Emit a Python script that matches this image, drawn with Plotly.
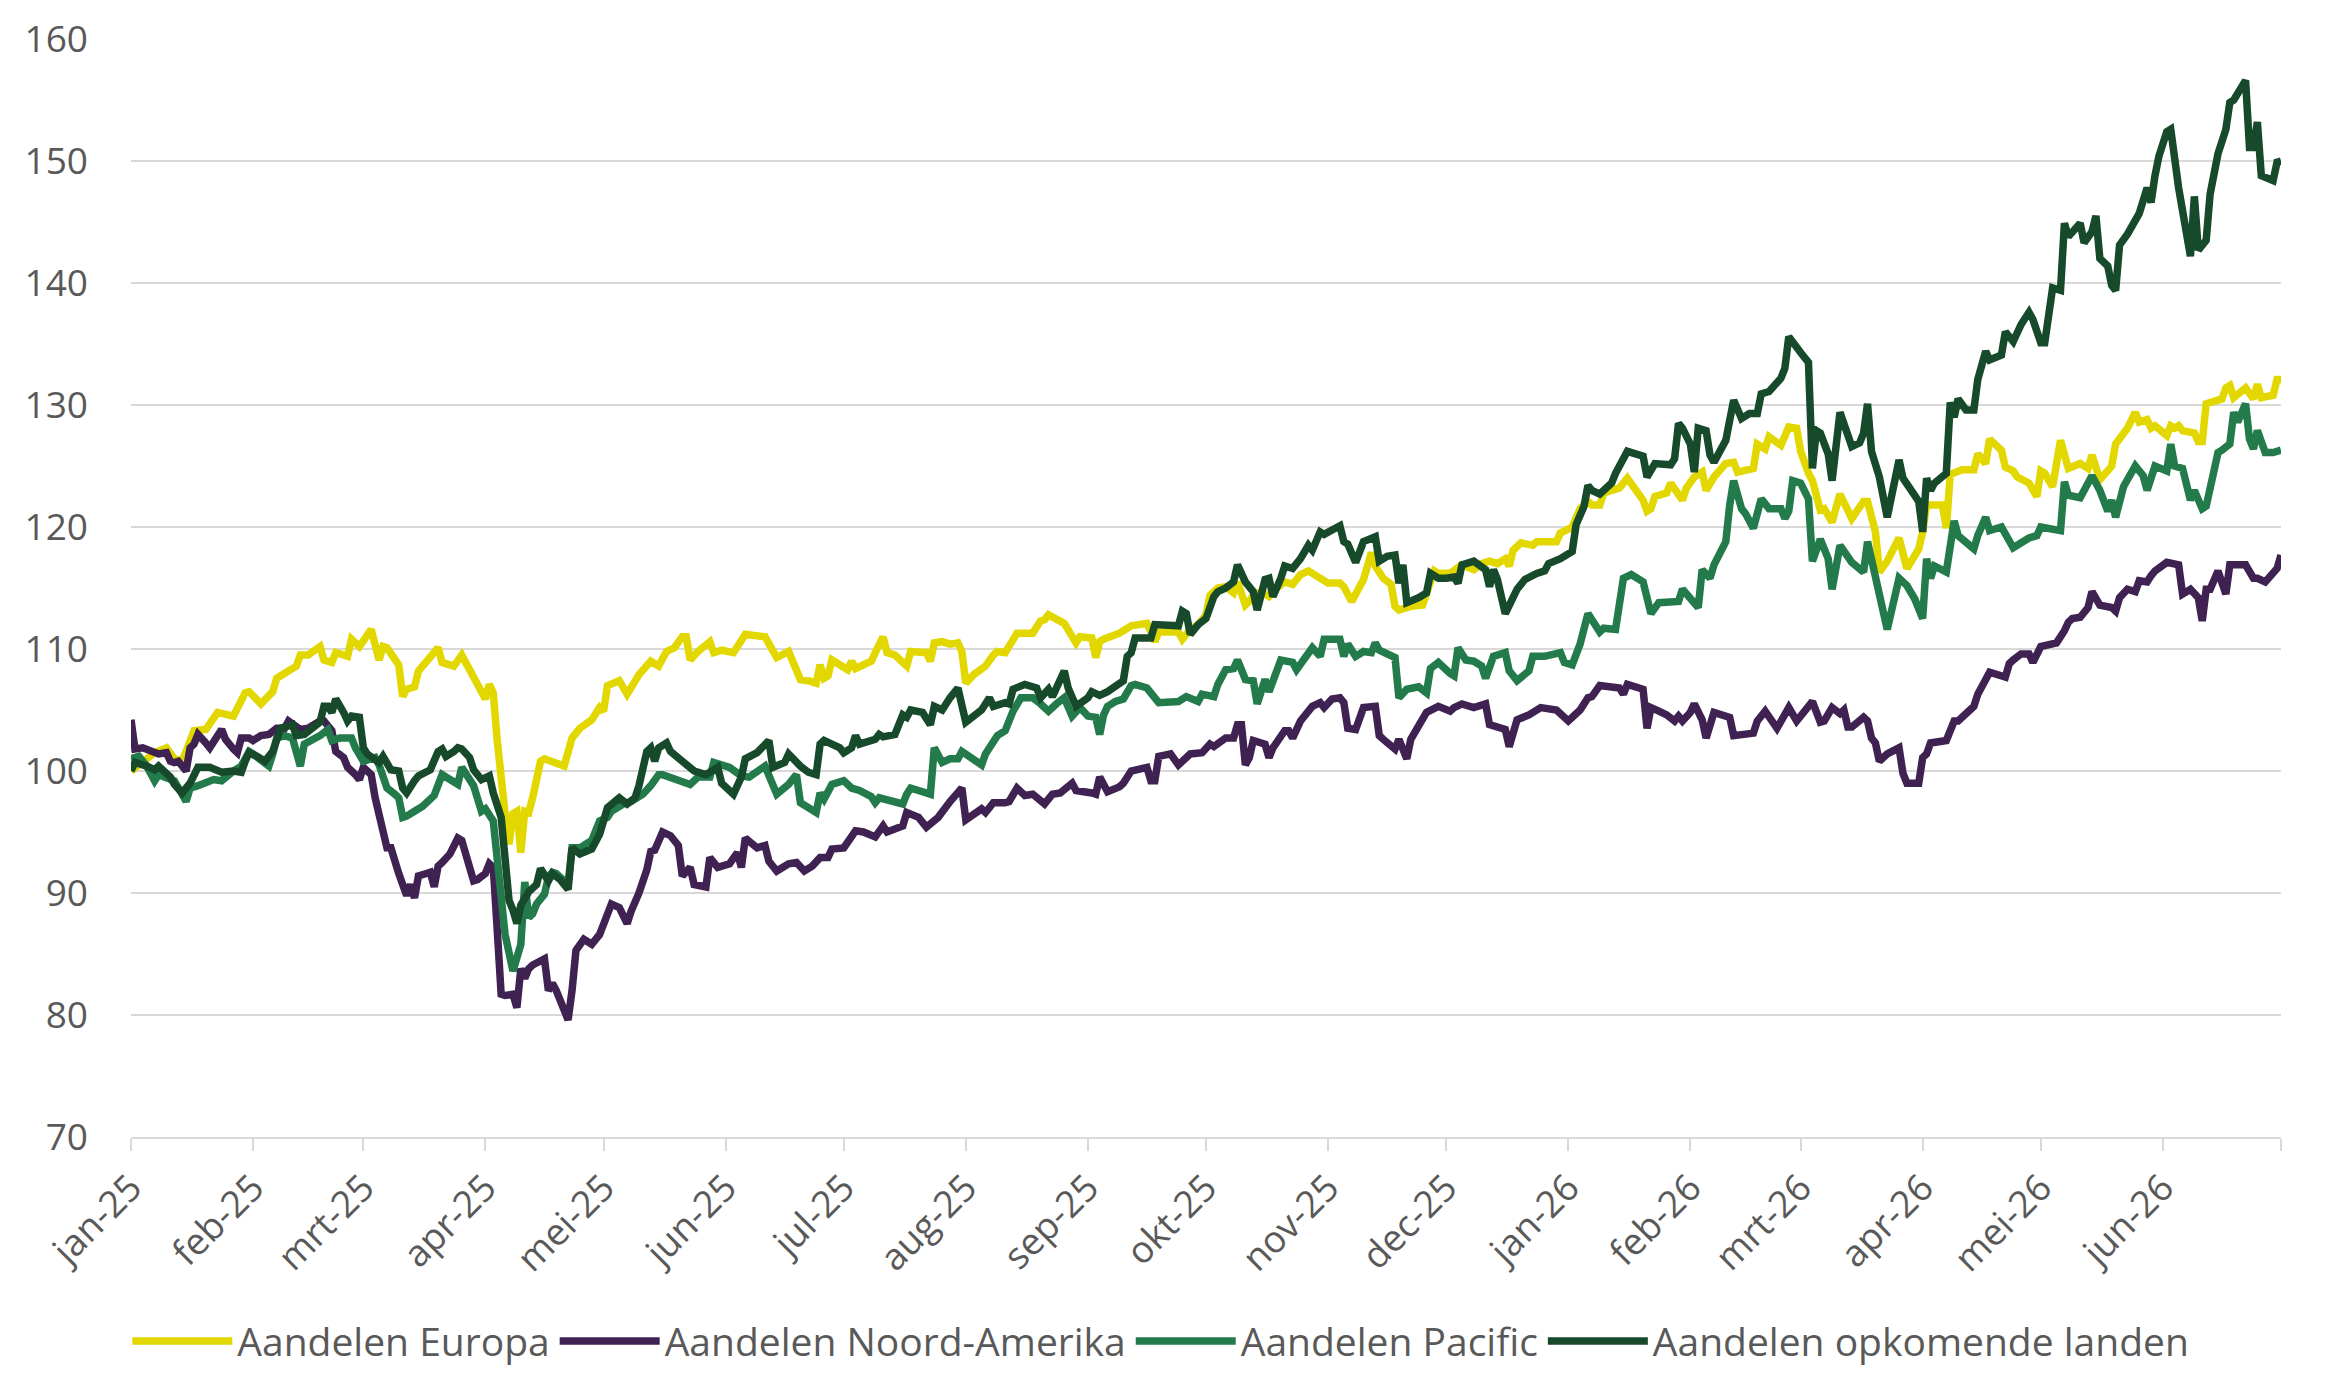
import pandas as pd
import plotly.graph_objects as go

BASE_DATE = "2025-01-01"  # day offsets below count from this date

europa_days = [0,3,6,9,11,13,15,16,19,22,26,29,30,33,36,37,42,43,45,48,49,51,52,55,56,58,61,63,64,65,68,69,70,72,73,75,78,79,82,84,86,88,90,91,92,93,94,95,96,97,98,99,100,101,102,103,104,105,110,112,114,117,119,120,121,124,126,129,132,134,136,138,140,141,142,144,147,148,150,153,155,156,161,162,164,167,169,170,172,174,175,176,177,178,182,183,184,188,189,191,192,194,197,198,202,203,204,206,208,210,211,212,214,216,217,219,220,222,225,229,231,232,233,237,239,240,241,244,245,246,247,249,251,254,258,259,260,261,266,267,269,271,273,274,276,278,280,281,283,284,285,287,289,291,293,295,297,299,302,304,307,308,310,312,313,315,316,318,320,321,322,325,328,330,331,332,335,338,341,343,345,347,349,350,351,353,356,357,362,363,366,368,370,371,373,374,378,380,382,384,385,386,387,390,391,393,394,395,397,399,400,402,405,407,408,412,413,415,416,419,421,423,424,426,427,429,430,432,434,437,440,441,443,444,446,449,451,454,455,456,460,461,462,465,468,469,471,472,475,476,478,479,482,484,485,486,488,490,492,495,497,498,500,502,503,504,505,507,509,510,512,513,514,517,518,519,520,521,524,525,526,527,531,532,533,534,537,539,540,541,544,545,546]
europa_values = [100.0,100.8,101.5,101.9,101.0,100.8,102.5,103.3,103.4,104.8,104.5,106.4,106.5,105.5,106.5,107.6,108.6,109.5,109.5,110.2,109.1,108.9,109.7,109.4,110.8,110.2,111.6,109.1,110.2,110.1,108.7,106.1,106.7,106.9,108.2,108.9,110.1,108.9,108.6,109.5,108.3,107.2,105.9,107.1,106.4,102.5,98.6,96.5,94.0,96.5,96.7,93.3,96.7,96.6,97.8,99.2,100.8,101.0,100.4,102.7,103.5,104.2,105.2,104.9,107.0,107.4,106.3,107.9,109.0,108.6,109.8,110.1,111.0,111.0,109.1,109.8,110.6,109.7,109.9,109.7,110.6,111.2,111.0,110.4,109.3,109.8,108.2,107.5,107.4,107.2,108.7,107.6,107.8,109.1,108.3,109.0,108.4,109.0,109.7,111.0,109.7,109.5,108.6,109.8,109.7,109.0,110.5,110.6,110.4,110.5,109.8,107.2,107.9,108.4,108.6,109.5,109.8,109.7,111.3,111.3,112.3,112.4,112.8,112.1,111.2,110.5,111.0,110.9,109.3,110.6,110.8,111.0,111.3,111.9,112.1,111.4,110.6,111.4,111.4,110.8,111.6,112.0,112.8,114.4,115.0,115.1,114.6,115.5,113.6,113.9,114.4,114.7,114.3,115.0,115.5,115.3,116.1,116.4,115.9,115.4,115.4,115.1,113.9,115.3,115.7,117.9,116.8,115.8,115.3,113.5,113.2,113.5,113.6,115.5,116.4,116.2,116.2,116.9,116.5,117.0,117.2,117.0,117.4,116.8,118.1,118.7,118.5,118.8,118.8,119.5,120.0,121.5,122.1,121.8,121.8,122.8,123.2,124.0,123.2,122.2,121.3,121.5,122.5,122.8,123.6,122.5,122.2,123.2,124.1,124.5,123.0,124.1,125.2,125.3,124.5,124.8,126.8,126.4,127.4,126.7,128.2,128.1,126.2,124.4,123.8,121.4,121.5,120.4,122.7,120.7,122.1,122.1,119.6,116.3,117.2,119.1,116.6,118.2,119.6,121.8,121.8,119.9,124.3,124.7,124.7,126.0,125.2,127.2,126.3,124.9,124.6,124.1,123.6,122.5,124.6,124.4,123.3,127.1,124.8,125.2,124.8,125.9,123.9,124.6,125.0,126.8,127.2,128.1,129.4,128.6,128.8,128.1,128.3,127.5,128.3,128.1,128.3,127.9,127.7,127.0,127.0,130.1,130.5,131.4,131.6,130.6,131.4,130.5,131.7,130.6,130.8,132.1,132.1]

noord_amerika_days = [0,1,3,5,7,9,10,11,12,14,15,16,17,19,20,23,24,26,27,28,30,31,33,35,37,39,40,43,45,48,49,51,52,54,55,57,58,59,61,62,64,65,66,67,68,70,71,72,73,75,76,77,78,79,81,83,84,85,87,88,90,91,92,93,94,95,97,98,99,100,101,102,105,106,107,108,111,112,113,115,117,119,121,122,124,126,127,128,129,131,132,133,135,137,139,140,142,143,146,147,149,152,154,155,156,159,161,162,164,167,169,171,173,175,177,178,181,184,186,189,191,192,194,196,197,200,202,204,205,208,210,211,212,214,216,217,219,222,223,225,227,229,232,234,236,239,240,244,245,246,248,251,252,254,258,259,260,261,264,266,268,269,272,274,275,278,280,281,282,283,284,285,288,289,290,293,294,295,297,300,302,303,305,307,308,309,311,313,316,317,318,321,322,324,325,329,332,335,336,338,341,344,345,348,349,350,352,355,358,362,364,365,368,370,371,373,378,379,380,384,385,386,388,390,392,393,394,396,397,399,400,402,406,407,412,413,415,418,421,423,426,427,429,430,432,434,435,436,437,440,441,442,443,444,446,449,450,451,454,455,456,457,461,463,464,468,469,471,472,476,477,478,480,482,483,485,489,491,492,493,495,497,498,500,503,504,505,507,509,510,512,513,514,517,519,520,521,523,525,526,527,528,530,532,533,537,539,540,542,545,546]
noord_amerika_values = [104.2,101.8,101.9,101.6,101.4,101.5,100.8,100.7,100.8,100.0,101.9,102.2,103.0,102.3,101.9,103.4,102.6,101.8,101.5,102.7,102.7,102.5,102.9,103.0,103.5,103.5,104.1,103.4,103.5,104.1,104.1,103.3,101.6,101.1,100.3,99.7,99.3,100.3,99.7,97.8,95.4,93.7,93.7,92.4,91.6,89.8,90.7,89.6,91.4,91.6,91.7,90.5,92.2,92.5,93.2,94.5,94.3,93.2,91.0,91.1,91.6,92.4,92.1,87.0,81.7,81.6,81.7,80.6,83.8,83.0,83.8,84.1,84.6,82.0,82.6,82.0,79.6,82.0,85.3,86.2,85.8,86.6,88.3,89.1,88.8,87.5,88.5,89.1,90.0,91.9,93.4,93.5,95.0,94.7,93.9,91.4,92.1,90.7,90.5,92.9,92.1,92.4,93.3,92.1,94.5,93.7,93.9,92.6,91.8,92.4,92.5,91.8,92.2,92.9,92.9,93.6,93.7,95.1,95.0,94.6,95.5,95.0,95.2,95.5,96.6,96.2,95.4,95.9,96.2,97.5,98.4,98.6,96.0,96.5,96.9,96.6,97.4,97.4,97.5,98.6,98.0,98.1,97.3,98.1,98.2,99.0,98.4,98.2,98.1,99.5,98.3,98.7,99.0,100.0,100.3,99.2,99.2,101.2,101.4,100.5,101.0,101.4,101.5,102.2,102.0,102.7,102.7,103.8,103.8,100.5,101.1,102.5,102.2,101.1,101.9,103.3,103.3,102.7,104.1,105.3,105.6,105.2,105.9,106.0,105.6,103.5,103.4,105.2,105.3,102.9,102.6,101.8,102.6,101.0,102.6,104.8,105.3,104.9,105.2,105.5,105.2,105.5,103.8,103.5,103.4,102.0,104.2,104.6,105.2,105.0,104.4,104.1,105.0,106.0,106.1,107.0,106.8,106.3,107.1,106.7,103.5,105.2,104.9,104.6,104.1,104.5,104.1,104.8,105.5,104.2,102.7,104.8,104.4,102.9,103.1,104.1,104.9,103.5,105.2,104.1,105.3,105.7,104.0,104.1,105.2,104.7,105.0,103.6,103.6,104.4,104.1,102.7,102.3,100.8,101.4,101.9,99.8,99.0,99.0,101.1,101.4,102.3,102.5,104.1,104.1,105.3,106.3,107.4,108.1,107.7,108.8,109.1,109.6,109.6,108.9,110.2,110.5,111.5,112.2,112.5,112.6,113.4,114.7,113.6,113.4,113.1,114.2,114.9,114.7,115.6,115.5,116.0,116.4,117.1,116.9,116.9,114.5,114.9,114.2,112.3,114.9,114.9,116.4,114.5,116.9,116.9,115.8,115.8,115.5,116.6,117.7]

pacific_days = [0,2,4,6,7,9,11,14,15,17,19,21,23,24,26,28,30,31,34,35,36,37,39,41,43,44,48,50,51,53,56,57,59,62,63,64,65,67,68,69,70,72,74,77,79,81,83,84,87,89,90,92,93,94,95,97,98,99,100,101,102,103,105,106,107,108,111,112,114,117,119,121,122,125,127,128,130,132,134,135,139,140,142,144,147,148,152,155,157,161,164,167,169,170,174,175,176,178,181,183,185,188,189,190,193,196,197,198,200,203,204,206,208,210,211,213,216,217,220,222,224,226,229,231,233,235,237,239,241,243,245,246,247,248,250,252,254,255,258,261,266,268,271,272,275,276,278,280,281,283,285,286,288,289,292,295,296,300,302,303,307,308,309,311,313,315,316,317,321,322,324,327,329,330,332,335,336,337,339,341,343,344,346,349,350,352,355,356,359,363,364,366,368,370,371,373,374,377,379,381,384,386,388,391,393,394,398,399,401,402,405,406,407,409,410,412,414,416,419,420,421,422,424,426,427,429,431,432,434,437,440,441,443,444,446,449,451,453,455,456,457,458,461,463,464,468,469,471,472,475,478,482,484,485,490,491,492,495,498,500,502,503,504,506,507,509,511,512,514,517,518,519,521,523,524,526,527,528,530,531,533,534,535,537,538,539,540,542,544,546]
pacific_values = [101.0,101.2,100.4,99.2,99.7,99.5,99.2,97.5,98.6,98.8,99.0,99.3,99.2,99.5,100.0,100.4,101.6,101.4,100.5,100.4,101.4,102.7,102.9,102.7,100.4,102.2,102.9,103.4,102.5,102.7,102.7,101.9,100.8,101.1,100.5,99.5,98.6,98.1,97.8,96.2,96.3,96.7,97.1,98.0,99.7,99.3,98.9,100.3,98.8,96.7,96.9,95.9,92.9,89.6,86.6,83.6,84.5,85.8,90.9,88.0,88.3,89.1,89.9,91.3,91.7,91.6,90.7,93.7,93.7,94.3,95.9,96.2,96.7,97.3,97.5,97.7,98.1,98.8,99.7,99.7,99.3,99.2,98.9,99.5,99.5,100.7,100.3,99.6,99.5,100.4,98.1,98.9,99.7,97.4,96.6,98.2,97.7,98.9,99.2,98.6,98.4,97.9,97.4,97.8,97.5,97.3,98.1,98.6,98.4,98.1,101.9,100.7,101.0,101.0,101.6,101.1,100.5,101.4,102.9,103.3,104.9,106.0,106.0,105.5,104.9,105.5,106.0,104.5,105.2,104.5,104.4,103.0,104.6,105.3,105.7,105.9,107.0,107.1,106.8,105.6,105.7,106.1,105.7,106.3,106.1,107.1,108.3,108.4,109.1,107.5,107.4,105.5,107.5,106.5,109.1,108.9,108.3,110.1,109.4,110.8,110.8,109.4,110.4,109.4,109.8,109.7,110.5,109.9,109.3,106.0,106.7,106.9,106.4,108.4,108.9,108.0,107.8,110.1,109.1,109.0,108.6,107.6,109.4,109.7,108.2,107.4,108.2,109.4,109.4,109.7,108.9,108.7,110.4,112.9,112.3,111.4,111.7,111.6,115.8,116.1,115.5,112.9,113.8,113.8,113.9,114.9,113.4,116.5,115.8,116.9,118.8,121.8,123.8,121.5,121.1,119.9,122.3,121.5,121.5,120.7,121.3,123.8,123.6,122.3,117.2,119.0,117.4,114.9,118.5,117.1,116.3,118.8,116.1,114.3,111.6,115.8,115.2,114.1,112.5,117.4,115.8,116.8,116.3,120.5,119.3,118.2,119.3,120.8,119.7,120.0,118.3,119.1,119.3,120.0,119.7,123.7,122.6,122.4,124.2,123.0,121.3,122.2,120.8,123.3,123.9,125.0,124.2,123.0,125.0,124.6,126.8,125.0,124.8,122.2,123.0,121.5,121.7,123.3,126.1,126.3,126.8,129.4,128.6,130.1,127.2,126.4,127.9,126.1,126.1,126.3]

opkomend_days = [0,1,4,6,7,10,11,13,15,17,20,22,23,26,28,29,30,32,34,36,37,38,41,42,44,48,49,50,51,52,54,55,56,58,59,60,63,64,66,68,69,70,72,73,76,78,79,80,82,83,84,86,87,89,91,92,94,95,96,97,98,99,101,103,104,106,107,109,111,112,114,117,119,121,124,126,128,129,131,132,133,134,136,137,139,141,143,146,148,149,150,153,155,156,159,161,162,163,166,167,169,170,172,174,175,176,178,180,181,183,184,185,186,188,189,190,191,194,196,197,198,201,203,204,206,208,210,212,214,216,218,219,222,223,224,227,230,231,233,234,237,238,240,243,244,246,248,250,252,253,254,255,259,260,266,267,268,269,271,273,275,276,278,280,281,283,285,286,288,289,290,292,293,295,297,299,300,302,303,307,308,309,311,313,316,317,319,321,322,323,324,327,329,330,332,334,336,337,338,341,344,345,346,347,349,352,354,357,359,360,363,366,367,369,370,371,373,376,377,380,384,385,387,391,392,393,394,396,397,398,400,401,402,405,406,407,409,411,413,414,416,419,420,421,424,426,427,428,429,431,432,434,437,439,440,441,442,444,446,449,450,452,454,455,456,457,458,461,462,463,464,466,468,469,471,472,475,476,478,480,482,483,485,486,488,490,491,492,494,495,496,498,499,500,502,503,504,505,507,510,512,513,514,515,517,518,520,523,524,525,527,528,530,532,533,534,537,538,539,540,541,544,545,546]
opkomend_values = [100.0,100.7,100.4,100.1,100.4,99.5,98.9,98.2,99.0,100.3,100.3,100.0,99.9,100.0,99.9,100.8,101.5,101.2,100.8,101.6,102.7,103.5,103.8,102.9,103.0,104.0,105.3,105.3,104.8,105.9,104.8,104.1,104.5,104.4,101.9,101.4,100.7,101.2,100.1,100.0,98.6,98.2,99.2,99.6,100.1,101.6,101.8,101.2,101.6,101.9,101.8,101.1,100.1,99.3,99.6,98.2,96.2,92.6,89.4,88.6,87.5,89.0,90.1,90.7,92.0,91.0,91.6,91.1,90.3,93.7,93.2,93.6,94.8,97.0,97.8,97.3,97.8,98.8,101.6,101.9,100.8,101.9,102.3,101.6,101.0,100.5,100.0,99.7,100.1,100.3,99.0,98.1,99.5,101.0,101.5,102.3,102.5,100.3,100.7,101.4,100.7,100.4,99.9,99.7,102.2,102.5,102.2,101.9,101.5,101.9,102.9,102.2,102.3,102.5,102.6,103.0,102.8,103.0,104.6,104.4,105.0,104.8,103.8,105.3,105.0,106.0,106.8,104.0,104.5,105.0,106.0,105.3,105.6,105.5,106.7,107.1,106.8,106.0,106.7,106.1,108.2,106.8,105.3,106.0,106.5,106.2,106.5,107.0,107.4,109.4,109.7,110.9,110.9,112.0,111.9,113.1,112.9,111.2,112.0,112.5,114.3,114.7,115.0,115.5,116.9,115.5,114.7,113.2,115.7,115.8,114.3,115.8,116.8,116.6,117.4,118.5,118.1,119.6,119.4,120.1,118.8,118.6,117.1,118.8,119.2,117.2,117.6,117.7,115.4,116.9,113.8,114.2,114.6,116.2,115.8,115.8,115.9,115.4,116.9,117.2,116.5,115.1,116.5,115.7,112.9,114.9,115.7,116.2,116.4,117.0,117.4,118.0,120.2,121.7,123.4,123.0,122.7,123.6,124.4,126.2,125.8,124.1,125.2,125.1,125.6,128.5,128.1,126.8,124.5,128.1,127.9,125.9,125.3,127.1,128.6,130.4,128.9,129.3,129.3,130.9,131.1,132.2,133.0,135.6,134.3,133.5,124.8,127.9,127.7,126.0,123.8,129.4,126.6,126.9,127.7,130.1,126.2,124.1,120.8,125.5,124.0,123.0,122.1,119.6,124.0,123.0,123.6,124.4,130.2,129.0,130.5,129.6,129.6,132.1,134.4,133.7,134.1,136.0,135.2,136.6,137.6,137.0,135.1,135.1,139.6,139.4,144.9,143.8,144.4,144.9,143.3,144.2,145.5,142.0,141.4,139.8,139.4,143.1,144.0,145.7,147.8,146.6,148.8,150.4,152.4,152.6,147.8,142.2,147.1,142.7,143.5,147.3,150.6,152.6,154.8,155.0,156.6,151.1,151.1,153.2,148.8,148.4,149.9,150.0]

series_names = ["Aandelen Europa", "Aandelen Noord-Amerika", "Aandelen Pacific", "Aandelen opkomende landen"]
series_colors = ["#E2D800", "#3F2252", "#237A4A", "#17492B"]

tick_dates = pd.date_range("2025-01-01", "2026-07-01", freq="MS")
month_nl = ["jan", "feb", "mrt", "apr", "mei", "jun", "jul", "aug", "sep", "okt", "nov", "dec"]
tick_labels = [f"{month_nl[d.month - 1]}-{d.year % 100:02d}" for d in tick_dates]
tick_labels[-1] = ""

base = pd.Timestamp(BASE_DATE)
def to_dates(days):
    return base + pd.to_timedelta(days, unit="D")

series = [
    (europa_days, europa_values),
    (noord_amerika_days, noord_amerika_values),
    (pacific_days, pacific_values),
    (opkomend_days, opkomend_values),
]

FONT = "Open Sans"
TXT = "#595959"
GRID = "#D9D9D9"

fig = go.Figure()
for (d, v), name, col in zip(series, series_names, series_colors):
    fig.add_trace(go.Scatter(x=to_dates(d), y=v, mode="lines", name=name,
                             line=dict(color=col, width=7.5, shape="linear")))

fig.update_layout(
    width=2339, height=1386,
    margin=dict(l=131, r=58, t=37, b=249),
    paper_bgcolor="white", plot_bgcolor="white",
    font=dict(family=FONT, size=39, color=TXT),
    showlegend=True,
    legend=dict(orientation="h", x=0.479, xanchor="center", y=-0.186, yanchor="middle",
                font=dict(family=FONT, size=39, color=TXT), itemwidth=100,
                tracegroupgap=0, bgcolor="rgba(0,0,0,0)"),
    xaxis=dict(type="date", range=["2025-01-01", "2026-07-01"],
               tickvals=list(tick_dates), ticktext=tick_labels, tickangle=-45,
               showgrid=False, showline=True, linecolor=GRID, linewidth=2,
               ticks="outside", ticklen=12, tickcolor=GRID, tickwidth=2,
               tickfont=dict(family=FONT, size=37, color=TXT), zeroline=False),
    yaxis=dict(range=[70, 160], dtick=10, tick0=70, showgrid=True, gridcolor=GRID, gridwidth=2,
               zeroline=False, showline=False, ticks="",
               tickfont=dict(family=FONT, size=37, color=TXT), ticklabelstandoff=42),
)

fig.write_html("out.html")
